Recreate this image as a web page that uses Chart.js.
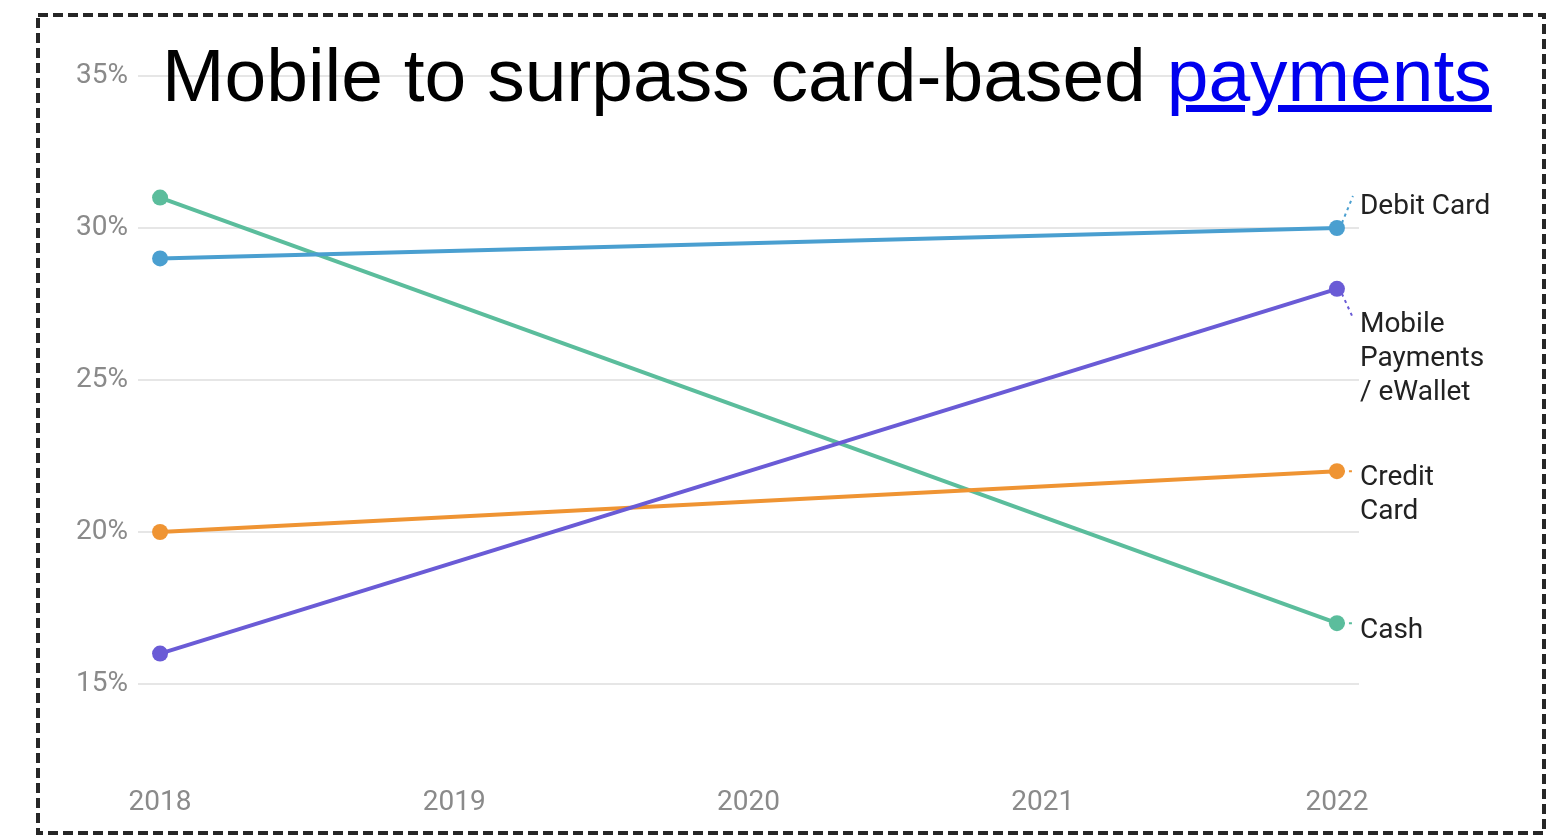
<!DOCTYPE html>
<html>
<head>
<meta charset="utf-8">
<script src="https://cdn.jsdelivr.net/npm/chart.js@4"></script>
<style>
  html, body { margin: 0; padding: 0; background: #fff; }
  #wrap { position: relative; width: 1559px; height: 837px; overflow: hidden; }
  #myChart { position: absolute; left: 0; top: 0; }
  #title {
    position: absolute; left: 162px; top: 30px;
    font-family: "Liberation Sans", Arial, sans-serif; font-size: 75px;
    color: #000; white-space: nowrap; line-height: 90px;
  }
  #title a { color: #0000ee; text-decoration: underline; }
</style>
</head>
<body>
<div id="wrap">
  <canvas id="myChart" width="1559" height="837"></canvas>
  <div id="title">Mobile to surpass card-based <a href="#">payments</a></div>
</div>
<script>
// data
var years = [2018, 2019, 2020, 2021, 2022];
var pointYears = [2018, 2022];
var debitCard = [29, 30];
var mobilePay = [16, 28];
var creditCard = [20, 22];
var cash = [31, 17];
var yTicks = [15, 20, 25, 30, 35];

var seriesNames = ['Debit Card', 'Mobile Payments / eWallet', 'Credit Card', 'Cash'];
var seriesLabels = [['Debit Card'], ['Mobile', 'Payments', '/ eWallet'], ['Credit', 'Card'], ['Cash']];
var colors = ['#4a9fd0', '#6a5bd6', '#ef9433', '#5bbd9c'];

function toPoints(vals){
    var pts = [];
    for (let i = 0; i < vals.length; i++) {
        pts.push({x: pointYears[i], y: vals[i]});
    }
    return pts;
}

var allVals = [debitCard, mobilePay, creditCard, cash];
var datasets = [];
for (let i = 0; i < allVals.length; i++) {
    datasets.push({
        label: seriesNames[i],
        data: toPoints(allVals[i]),
        borderColor: colors[i],
        backgroundColor: colors[i],
        borderWidth: 4,
        pointRadius: 8,
        pointHoverRadius: 8,
        pointBorderWidth: 0
    });
}

// end labels with little dotted leaders
var labelPlace = [
    {lx: 16, ly: -32, ty: -21},
    {lx: 16, ly: 29, ty: 36},
    {lx: 16, ly: 0, ty: 7},
    {lx: 16, ly: 0, ty: 8}
];

const endLabels = {
    id: 'endLabels',
    afterDatasetsDraw(chart){
        const ctx = chart.ctx;
        ctx.save();
        ctx.font = '28px Roboto';
        ctx.textBaseline = 'middle';
        ctx.fillStyle = '#222';
        for (let i = 0; i < chart.data.datasets.length; i++) {
            const meta = chart.getDatasetMeta(i);
            const pt = meta.data[meta.data.length - 1];
            const p = labelPlace[i];
            ctx.strokeStyle = colors[i];
            ctx.lineWidth = 2;
            ctx.setLineDash([3, 4]);
            ctx.beginPath();
            ctx.moveTo(pt.x + 5, pt.y + (p.ly < 0 ? -5 : (p.ly > 0 ? 5 : 0)));
            ctx.lineTo(pt.x + p.lx, pt.y + p.ly);
            ctx.stroke();
            const lines = seriesLabels[i];
            for (let j = 0; j < lines.length; j++) {
                ctx.fillText(lines[j], pt.x + 23, pt.y + p.ty + j * 34);
            }
        }
        ctx.restore();
    }
};

// dashed frame round the whole picture
const frame = {
    id: 'frame',
    afterDraw(chart){
        const ctx = chart.ctx;
        ctx.save();
        ctx.strokeStyle = '#262626';
        ctx.lineWidth = 4;
        ctx.setLineDash([10, 5]);
        ctx.strokeRect(38, 15, 1506, 818);
        ctx.restore();
    }
};

const config = {
    type: 'line',
    data: { datasets: datasets },
    plugins: [endLabels, frame],
    options: {
        responsive: false,
        animation: false,
        layout: { padding: { left: 0, right: 200, top: 76, bottom: 0 } },
        plugins: {
            legend: { display: false },
            tooltip: { enabled: false },
            title: { display: false }
        },
        scales: {
            x: {
                type: 'linear',
                min: 2017.925,
                max: 2022.075,
                afterBuildTicks: function(axis){ axis.ticks = years.map(v => ({value: v})); },
                afterFit: function(axis){ axis.height = 77; },
                grid: { display: false, drawTicks: false },
                border: { display: false },
                ticks: {
                    padding: 26,
                    color: '#8a8a8a',
                    font: { family: 'Roboto', size: 28 },
                    callback: v => String(v)
                }
            },
            y: {
                min: 12.5,
                max: 35,
                afterBuildTicks: function(axis){ axis.ticks = yTicks.map(v => ({value: v})); },
                afterFit: function(axis){ axis.width = 138; },
                grid: { color: '#e6e6e6', lineWidth: 2, drawTicks: false },
                border: { display: false },
                ticks: {
                    padding: 10,
                    color: '#8a8a8a',
                    font: { family: 'Roboto', size: 28 },
                    callback: v => v + '%'
                }
            }
        }
    }
};

var lineChart = new Chart(document.getElementById('myChart'), config);
</script>
</body>
</html>
